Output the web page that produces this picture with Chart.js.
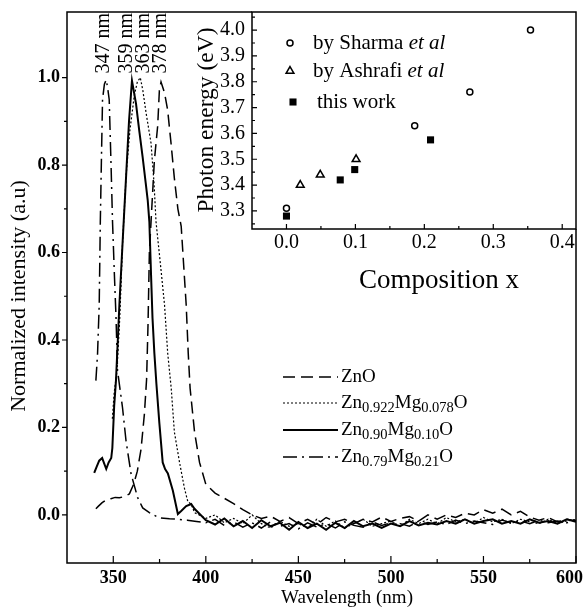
<!DOCTYPE html>
<html>
<head>
<meta charset="utf-8">
<script src="https://cdn.jsdelivr.net/npm/chart.js@4.4.0/dist/chart.umd.min.js"></script>
<style>
  html, body { margin: 0; padding: 0; background: #fff; }
  #wrap { position: relative; width: 586px; height: 610px; }
  #main { position: absolute; left: 0; top: 0; }
  #inset { position: absolute; left: 194px; top: 0; }
</style>
</head>
<body>
<div id="wrap">
  <canvas id="main" width="586" height="610"></canvas>
  <canvas id="inset" width="384" height="300"></canvas>
</div>
<script>
// --- main plot: normalized PL spectra ---
const xTicks = [350, 400, 450, 500, 550, 600];
const xMinor = [375, 425, 475, 525, 575];
const yTicks = [0.0, 0.2, 0.4, 0.6, 0.8, 1.0];
const yMinor = [0.1, 0.3, 0.5, 0.7, 0.9];

// ZnO (dashed)
const znoWl = [340.6, 342, 344, 346, 348.7, 351, 353.3, 356, 358.7, 361, 363, 365, 366.8, 368, 368.8, 369.5, 370.4, 372.2, 374, 374.9, 375.8, 377.7, 379.4, 381.2, 383, 384.9, 386.7, 387.6, 389.4, 390.5, 391.5, 393.9, 396.6];
const znoI  = [0.014, 0.02, 0.028, 0.034, 0.037, 0.04, 0.039, 0.042, 0.048, 0.07, 0.10, 0.15, 0.23, 0.31, 0.44, 0.60, 0.67, 0.81, 0.89, 0.97, 0.99, 0.965, 0.925, 0.85, 0.77, 0.70, 0.66, 0.60, 0.48, 0.37, 0.29, 0.19, 0.12];
// Zn0.922Mg0.078O (dotted)
const mg078Wl = [349.5, 350.5, 352, 353.5, 355, 357, 359, 361.4, 363, 364.6, 366, 367.7, 370.4, 372, 373.1, 375.8, 377.7, 379.4, 381.3, 383, 385.8, 388.5, 390.3, 392, 394];
const mg078I  = [0.22, 0.28, 0.33, 0.45, 0.62, 0.78, 0.88, 0.96, 0.99, 1.0, 0.97, 0.92, 0.85, 0.76, 0.67, 0.56, 0.48, 0.37, 0.29, 0.19, 0.12, 0.06, 0.03, 0.025, 0.005];
// Zn0.90Mg0.10O (solid)
const mg10Wl = [339.7, 341, 342.4, 344, 346.2, 347.5, 348.9, 349.5, 350.5, 351.5, 353.3, 355, 357, 358.5, 360.1, 362.3, 364, 365.9, 367.5, 368.6, 369.5, 370.4, 371.2, 372.2, 373.3, 374.9, 376.7, 378, 379.5, 382.2, 384.9, 386.7, 389.4, 392.1, 393.9];
const mg10I  = [0.096, 0.11, 0.124, 0.13, 0.105, 0.12, 0.13, 0.153, 0.25, 0.31, 0.48, 0.62, 0.78, 0.9, 0.993, 0.94, 0.88, 0.817, 0.76, 0.72, 0.67, 0.55, 0.45, 0.37, 0.30, 0.21, 0.12, 0.105, 0.095, 0.055, 0.002, 0.009, 0.02, 0.025, 0.014];
// Zn0.79Mg0.21O (dash-dot)
const mg21Wl = [340.6, 341.5, 342.4, 343.0, 343.5, 344.2, 345.2, 346.2, 347.0, 347.8, 348.8, 349.6, 350.6, 351.5, 352.3, 355, 356.9, 359.6, 363.2, 365.9, 369.5, 374.9, 380.4, 385, 390, 395];
const mg21I  = [0.307, 0.368, 0.48, 0.67, 0.79, 0.95, 0.985, 0.995, 0.975, 0.95, 0.80, 0.67, 0.55, 0.45, 0.33, 0.245, 0.169, 0.094, 0.039, 0.016, 0.005, -0.007, -0.009, -0.01, -0.012, -0.015];

// noisy tails 400..600 nm
const tailWl = [400, 405, 410, 415, 420, 425, 430, 435, 440, 445, 450, 455, 460, 465, 470, 475, 480, 485, 490, 495, 500, 505, 510, 515, 520, 525, 530, 535, 540, 545, 550, 555, 560, 565, 570, 575, 580, 585, 590, 595, 600];
const znoTail   = [0.07, 0.05, 0.038, 0.026, 0.012, 0.0, -0.008, -0.003, -0.015, -0.006, -0.02, -0.01, -0.022, -0.006, -0.016, -0.01, -0.02, -0.01, -0.016, -0.005, -0.015, -0.008, -0.004, -0.014, 0.0, -0.01, 0.0, -0.006, 0.004, 0.0, 0.012, 0.004, 0.013, 0.0, 0.008, -0.005, -0.012, -0.006, -0.016, -0.01, -0.014];
const mg078Tail = [-0.008, 0.0, -0.018, -0.008, -0.02, 0.0, -0.02, -0.03, -0.014, -0.026, -0.02, -0.03, -0.01, -0.026, -0.014, -0.03, -0.02, -0.01, -0.026, -0.02, -0.014, -0.026, -0.01, -0.02, -0.01, -0.02, -0.006, -0.016, -0.01, -0.02, -0.006, -0.016, -0.01, -0.02, -0.01, -0.016, -0.02, -0.01, -0.02, -0.014, -0.01];
const mg10Tail  = [-0.012, -0.022, -0.008, -0.026, -0.014, -0.03, -0.012, -0.026, -0.018, -0.034, -0.016, -0.03, -0.02, -0.034, -0.018, -0.03, -0.014, -0.026, -0.02, -0.03, -0.02, -0.026, -0.014, -0.024, -0.018, -0.022, -0.014, -0.02, -0.01, -0.02, -0.014, -0.01, -0.02, -0.014, -0.02, -0.01, -0.018, -0.014, -0.02, -0.01, -0.016];
const mg21Tail  = [-0.018, -0.01, -0.024, -0.016, -0.028, -0.018, -0.03, -0.016, -0.026, -0.02, -0.032, -0.018, -0.028, -0.02, -0.03, -0.016, -0.024, -0.028, -0.016, -0.024, -0.018, -0.02, -0.026, -0.014, -0.022, -0.016, -0.022, -0.012, -0.02, -0.014, -0.018, -0.022, -0.012, -0.018, -0.014, -0.02, -0.012, -0.018, -0.014, -0.018, -0.012];

const peakLabels  = ['347 nm', '359 nm', '363 nm', '378 nm'];
const peakLabelWl = [344.6, 357.3, 366.3, 375.5];

const legendNames = [
  [['ZnO', false]],
  [['Zn', false], ['0.922', true], ['Mg', false], ['0.078', true], ['O', false]],
  [['Zn', false], ['0.90', true], ['Mg', false], ['0.10', true], ['O', false]],
  [['Zn', false], ['0.79', true], ['Mg', false], ['0.21', true], ['O', false]]
];

// --- inset: photon energy vs composition ---
const compTicks   = [0.0, 0.1, 0.2, 0.3, 0.4];
const compMinor   = [0.05, 0.15, 0.25, 0.35];
const energyTicks = [3.3, 3.4, 3.5, 3.6, 3.7, 3.8, 3.9, 4.0];
const energyMinor = [3.25, 3.35, 3.45, 3.55, 3.65, 3.75, 3.85, 3.95, 4.05];

const sharmaX  = [0.0, 0.186, 0.266, 0.354];
const sharmaE  = [3.31, 3.63, 3.76, 4.00];
const ashrafiX = [0.02, 0.049, 0.101];
const ashrafiE = [3.40, 3.44, 3.50];
const workX    = [0.0, 0.078, 0.099, 0.209];
const workE    = [3.28, 3.42, 3.46, 3.575];

const SERIF = "'Liberation Serif', 'Times New Roman', serif";
const styles = [
  { dash: [12, 6], width: 1.5 },
  { dash: [2, 2], width: 1.2 },
  { dash: [], width: 2 },
  { dash: [14, 5, 2, 5], width: 1.5 }
];

function pts(xs, ys) {
  return xs.map((x, i) => ({ x: x, y: ys[i] }));
}

function lineSet(wl, vals, st) {
  return {
    data: pts(wl, vals),
    borderColor: '#000',
    borderWidth: st.width,
    borderDash: st.dash,
    pointRadius: 0,
    tension: 0,
    fill: false
  };
}

// keep the plot area where the axes say, without label overhang padding
function noPadX(s, h) { s.height = h; s.paddingLeft = 0; s.paddingRight = 0; }
function noPadY(s, w) { s.width = w; s.paddingTop = 0; s.paddingBottom = 0; }

function richText(ctx, parts, x, y, size, subSize) {
  let cx = x;
  parts.forEach(p => {
    ctx.font = (p[1] ? subSize : size) + 'px ' + SERIF;
    ctx.fillText(p[0], cx, p[1] ? y + 5 : y);
    cx += ctx.measureText(p[0]).width;
  });
}

// tick marks, frame, titles, labels and legend for the main plot
const mainDecor = {
  id: 'mainDecor',
  afterDraw(chart) {
    const ctx = chart.ctx, a = chart.chartArea;
    const xs = chart.scales.x, ys = chart.scales.y;
    ctx.save();
    ctx.strokeStyle = '#000';
    ctx.fillStyle = '#000';
    ctx.lineWidth = 1.5;
    ctx.setLineDash([]);
    ctx.strokeRect(a.left, a.top, a.right - a.left, a.bottom - a.top);

    ctx.lineWidth = 1.2;
    ctx.beginPath();
    xTicks.forEach(v => { const p = xs.getPixelForValue(v); ctx.moveTo(p, a.bottom); ctx.lineTo(p, a.bottom - 7); });
    xMinor.forEach(v => { const p = xs.getPixelForValue(v); ctx.moveTo(p, a.bottom); ctx.lineTo(p, a.bottom - 4); });
    yTicks.forEach(v => { const p = ys.getPixelForValue(v); ctx.moveTo(a.left, p); ctx.lineTo(a.left - 5, p); });
    yMinor.forEach(v => { const p = ys.getPixelForValue(v); ctx.moveTo(a.left, p); ctx.lineTo(a.left - 3, p); });
    ctx.stroke();

    // x tick labels, the last one pulled in to stay on the page
    ctx.textAlign = 'center';
    ctx.textBaseline = 'middle';
    ctx.font = 'bold 18px ' + SERIF;
    xTicks.forEach(v => {
      const w = ctx.measureText(String(v)).width;
      const px = Math.min(xs.getPixelForValue(v), chart.width - 3 - w / 2);
      ctx.fillText(String(v), px, a.bottom + 15);
    });

    // axis titles
    ctx.font = '19px ' + SERIF;
    ctx.fillText('Wavelength (nm)', 347, 598);
    ctx.save();
    ctx.translate(19, 296);
    ctx.rotate(-Math.PI / 2);
    ctx.font = '22px ' + SERIF;
    ctx.fillText('Normalized intensity (a.u)', 0, 0);
    ctx.restore();

    // peak labels
    ctx.font = '20px ' + SERIF;
    ctx.textAlign = 'right';
    peakLabels.forEach((t, i) => {
      ctx.save();
      ctx.translate(xs.getPixelForValue(peakLabelWl[i]), 13);
      ctx.rotate(-Math.PI / 2);
      ctx.fillText(t, 0, 0);
      ctx.restore();
    });

    // legend
    const rows = [377, 403, 430, 457];
    ctx.textAlign = 'left';
    legendNames.forEach((parts, i) => {
      ctx.setLineDash(styles[i].dash);
      ctx.lineWidth = styles[i].width;
      ctx.beginPath();
      ctx.moveTo(283, rows[i]);
      ctx.lineTo(338, rows[i]);
      ctx.stroke();
      ctx.setLineDash([]);
      richText(ctx, parts, 341, rows[i], 19, 14.5);
    });
    ctx.restore();
  }
};

new Chart(document.getElementById('main'), {
  type: 'line',
  data: {
    datasets: [
      lineSet(znoWl.concat(tailWl), znoI.concat(znoTail), styles[0]),
      lineSet(mg078Wl.concat(tailWl), mg078I.concat(mg078Tail), styles[1]),
      lineSet(mg10Wl.concat(tailWl), mg10I.concat(mg10Tail), styles[2]),
      lineSet(mg21Wl.concat(tailWl), mg21I.concat(mg21Tail), styles[3])
    ]
  },
  options: {
    responsive: false,
    animation: false,
    layout: { autoPadding: false, padding: { left: 0, right: 10, top: 12, bottom: 0 } },
    plugins: { legend: { display: false }, tooltip: { enabled: false } },
    scales: {
      x: {
        type: 'linear', min: 325, max: 600,
        grid: { display: false, drawTicks: false },
        border: { display: false },
        afterBuildTicks: s => { s.ticks = xTicks.map(v => ({ value: v })); },
        afterFit: s => noPadX(s, 47),
        ticks: { display: false }
      },
      y: {
        type: 'linear', min: -0.11, max: 1.15,
        grid: { display: false, drawTicks: false },
        border: { display: false },
        afterBuildTicks: s => { s.ticks = yTicks.map(v => ({ value: v })); },
        afterFit: s => noPadY(s, 67),
        ticks: { autoSkip: false, padding: 7, color: '#000',
                 callback: v => v.toFixed(1),
                 font: { family: SERIF, size: 18, weight: 'bold' } }
      }
    }
  },
  plugins: [mainDecor]
});

// inset decorations
const insetDecor = {
  id: 'insetDecor',
  beforeDraw(chart) {
    const ctx = chart.ctx;
    ctx.save();
    ctx.fillStyle = '#fff';
    ctx.fillRect(0, 0, chart.width, chart.height);
    ctx.restore();
  },
  afterDraw(chart) {
    const ctx = chart.ctx, a = chart.chartArea;
    const xs = chart.scales.x, ys = chart.scales.y;
    ctx.save();
    ctx.strokeStyle = '#000';
    ctx.fillStyle = '#000';
    ctx.lineWidth = 1.5;
    ctx.strokeRect(a.left, a.top, a.right - a.left, a.bottom - a.top);
    // carry on the main frame where this canvas sits over it
    ctx.beginPath();
    ctx.moveTo(0, a.top);
    ctx.lineTo(a.left, a.top);
    ctx.moveTo(a.right, a.bottom);
    ctx.lineTo(a.right, chart.height);
    ctx.stroke();

    ctx.lineWidth = 1.2;
    ctx.beginPath();
    compTicks.forEach(v => { const p = xs.getPixelForValue(v); ctx.moveTo(p, a.bottom); ctx.lineTo(p, a.bottom - 5); });
    compMinor.forEach(v => { const p = xs.getPixelForValue(v); ctx.moveTo(p, a.bottom); ctx.lineTo(p, a.bottom - 3); });
    energyTicks.forEach(v => { const p = ys.getPixelForValue(v); ctx.moveTo(a.left, p); ctx.lineTo(a.left + 5, p); });
    energyMinor.forEach(v => { const p = ys.getPixelForValue(v); ctx.moveTo(a.left, p); ctx.lineTo(a.left + 3, p); });
    ctx.stroke();

    ctx.textAlign = 'center';
    ctx.textBaseline = 'middle';
    ctx.font = '27px ' + SERIF;
    ctx.fillText('Composition x', 245, 281);
    ctx.save();
    ctx.translate(13, 120);
    ctx.rotate(-Math.PI / 2);
    ctx.font = '23.5px ' + SERIF;
    ctx.fillText('Photon energy (eV)', 0, 0);
    ctx.restore();

    // legend
    const marks = [
      { pointStyle: 'circle', radius: 3, borderWidth: 1.5, fill: '#fff', x: 96, y: 43 },
      { pointStyle: 'triangle', radius: 4.5, borderWidth: 1.5, fill: '#fff', x: 96, y: 71 },
      { pointStyle: 'rect', radius: 5, borderWidth: 0, fill: '#000', x: 99, y: 102 }
    ];
    marks.forEach(m => {
      ctx.fillStyle = m.fill;
      ctx.strokeStyle = '#000';
      ctx.lineWidth = m.borderWidth;
      Chart.helpers.drawPoint(ctx, { pointStyle: m.pointStyle, radius: m.radius, borderWidth: m.borderWidth, rotation: 0 }, m.x, m.y);
    });
    ctx.fillStyle = '#000';
    ctx.textAlign = 'left';
    const legendRows = [
      [['by Sharma ', ''], ['et al', 'italic ']],
      [['by Ashrafi ', ''], ['et al', 'italic ']],
      [['this work', '']]
    ];
    const lx = [119, 119, 123], ly = [43, 71, 102];
    legendRows.forEach((parts, i) => {
      let cx = lx[i];
      parts.forEach(p => {
        ctx.font = p[1] + '21px ' + SERIF;
        ctx.fillText(p[0], cx, ly[i]);
        cx += ctx.measureText(p[0]).width;
      });
    });
    ctx.restore();
  }
};

new Chart(document.getElementById('inset'), {
  type: 'scatter',
  data: {
    datasets: [
      { data: pts(workX, workE), pointStyle: 'rect', pointRadius: 5, backgroundColor: '#000', borderColor: '#000', borderWidth: 0 },
      { data: pts(ashrafiX, ashrafiE), pointStyle: 'triangle', pointRadius: 4.5, backgroundColor: '#fff', borderColor: '#000', borderWidth: 1.5 },
      { data: pts(sharmaX, sharmaE), pointStyle: 'circle', pointRadius: 3, backgroundColor: '#fff', borderColor: '#000', borderWidth: 1.5 }
    ]
  },
  options: {
    responsive: false,
    animation: false,
    layout: { autoPadding: false, padding: { left: 0, right: 2, top: 12, bottom: 0 } },
    plugins: { legend: { display: false }, tooltip: { enabled: false } },
    scales: {
      x: {
        type: 'linear', min: -0.05, max: 0.42,
        grid: { display: false, drawTicks: false },
        border: { display: false },
        afterBuildTicks: s => { s.ticks = compTicks.map(v => ({ value: v })); },
        afterFit: s => noPadX(s, 71),
        ticks: { autoSkip: false, maxRotation: 0, padding: 2, color: '#000',
                 callback: v => v.toFixed(1),
                 font: { family: SERIF, size: 20 } }
      },
      y: {
        type: 'linear', min: 3.23, max: 4.07,
        grid: { display: false, drawTicks: false },
        border: { display: false },
        afterBuildTicks: s => { s.ticks = energyTicks.map(v => ({ value: v })); },
        afterFit: s => noPadY(s, 58),
        ticks: { autoSkip: false, padding: 7, color: '#000',
                 callback: v => v.toFixed(1),
                 font: { family: SERIF, size: 20 } }
      }
    }
  },
  plugins: [insetDecor]
});
</script>
</body>
</html>
